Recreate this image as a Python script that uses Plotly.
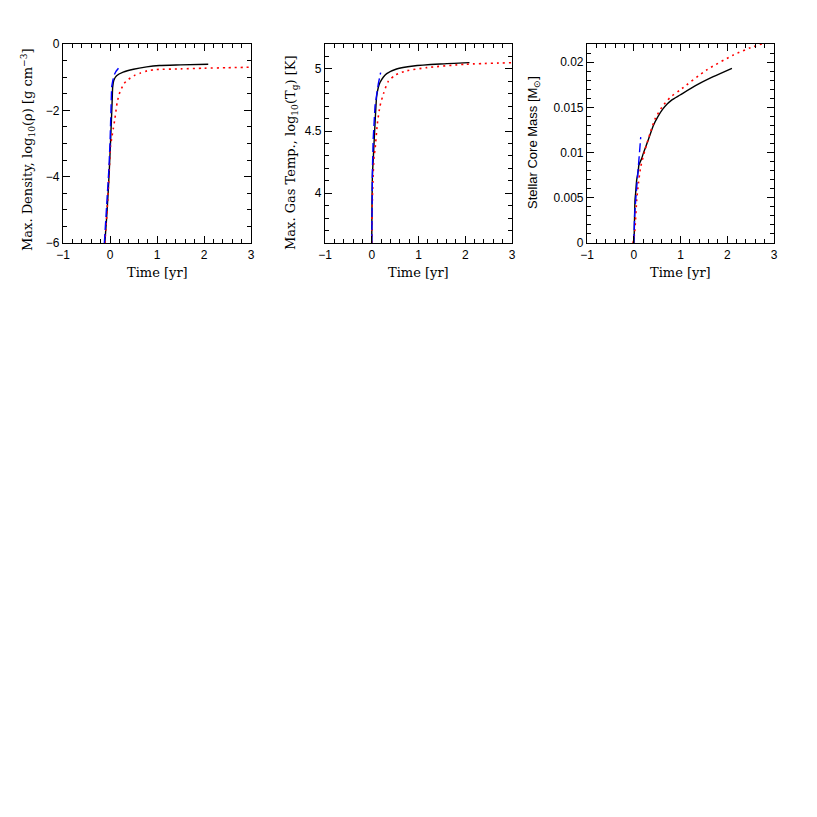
import plotly.graph_objects as go

# ---- Panel 1: max density log10(rho) ----
rho_black_t = [-0.11, -0.07, -0.04, -0.015, 0.01, 0.03, 0.045, 0.057, 0.08, 0.14, 0.28, 0.50, 0.78, 1.05, 1.5, 2.09]
rho_black_y = [-6.0, -5.2, -4.5, -3.8, -3.0, -2.3, -1.75, -1.30, -1.10, -0.96, -0.85, -0.76, -0.69, -0.65, -0.63, -0.61]
rho_red_t = [-0.11, -0.07, -0.04, -0.015, 0.01, 0.036, 0.07, 0.106, 0.155, 0.213, 0.30, 0.39, 0.51, 0.64, 0.79, 0.99, 1.5, 2.0, 2.5, 3.0]
rho_red_y = [-6.0, -5.2, -4.5, -3.8, -3.1, -2.84, -2.55, -2.24, -1.74, -1.44, -1.19, -1.07, -0.955, -0.88, -0.81, -0.77, -0.75, -0.73, -0.715, -0.70]
rho_blue_t = [-0.12, -0.08, -0.05, -0.025, 0.0, 0.02, 0.035, 0.06, 0.09, 0.13, 0.18]
rho_blue_y = [-6.0, -5.2, -4.5, -3.8, -3.0, -2.0, -1.29, -1.1, -0.93, -0.82, -0.73]

# ---- Panel 2: max gas temperature log10(Tg) ----
tg_black_t = [0.0, 0.005, 0.015, 0.034, 0.07, 0.105, 0.14, 0.176, 0.25, 0.32, 0.53, 0.89, 1.46, 2.09]
tg_black_y = [3.6, 3.9, 4.15, 4.29, 4.56, 4.78, 4.85, 4.89, 4.935, 4.962, 4.999, 5.023, 5.039, 5.05]
tg_red_t = [0.0, 0.01, 0.03, 0.05, 0.07, 0.12, 0.176, 0.25, 0.35, 0.50, 0.75, 1.18, 2.0, 3.0]
tg_red_y = [3.6, 3.9, 4.15, 4.30, 4.35, 4.56, 4.70, 4.80, 4.897, 4.95, 4.985, 5.01, 5.037, 5.05]
tg_blue_t = [0.0, 0.005, 0.015, 0.03, 0.07, 0.14, 0.19]
tg_blue_y = [3.6, 3.9, 4.2, 4.43, 4.70, 4.88, 4.97]

# ---- Panel 3: stellar core mass ----
m_black_t = [0.005, 0.01, 0.027, 0.04, 0.063, 0.097, 0.11, 0.17, 0.205, 0.31, 0.42, 0.52, 0.62, 0.72, 0.81, 0.99, 1.35, 1.70, 2.10]
m_black_y = [0.0, 0.00107, 0.00475, 0.0055, 0.00697, 0.0080, 0.00862, 0.00935, 0.00991, 0.01139, 0.01300, 0.0140, 0.0148, 0.0154, 0.0158, 0.01636, 0.01747, 0.01838, 0.01931]
m_red_t = [-0.02, 0.0, 0.027, 0.063, 0.10, 0.149, 0.24, 0.35, 0.455, 0.60, 0.78, 0.99, 1.56, 2.13, 2.5, 2.85]
m_red_y = [0.0, 0.0003, 0.00162, 0.00475, 0.0066, 0.00843, 0.01028, 0.01213, 0.01370, 0.01500, 0.0161, 0.01691, 0.01913, 0.02078, 0.0216, 0.0222]
m_blue_t = [0.0, 0.005, 0.02, 0.047, 0.075, 0.097, 0.149]
m_blue_y = [0.0, 0.0015, 0.0032, 0.00512, 0.0068, 0.00843, 0.0117]

x_ticks = [-1, 0, 1, 2, 3]
x_ticktext = ["\u22121", "0", "1", "2", "3"]
y1_ticks = [-6, -4, -2, 0]
y1_ticktext = ["\u22126", "\u22124", "\u22122", "0"]
y2_ticks = [4, 4.5, 5]
y2_ticktext = ["4", "4.5", "5"]
y3_ticks = [0, 0.005, 0.01, 0.015, 0.02]
y3_ticktext = ["0", "0.005", "0.01", "0.015", "0.02"]

OFF = 8  # page body margin
W = 817 - OFF
H = 817 - OFF
panels_px = [(63, 251), (325, 512), (587, 774)]
top_px, bot_px = 44, 243

def fx(px):
    return (px - OFF) / W

def fy(py):
    return 1 - (py - OFF) / H

fig = go.Figure()

def add_traces(idx, bt, by, rt, ry, blt, bly):
    xa = "x" if idx == 1 else f"x{idx}"
    ya = "y" if idx == 1 else f"y{idx}"
    fig.add_trace(go.Scatter(x=bt, y=by, mode="lines", xaxis=xa, yaxis=ya,
                             line=dict(color="black", width=1.4, shape="spline", smoothing=0.6), showlegend=False))
    fig.add_trace(go.Scatter(x=rt, y=ry, mode="lines", xaxis=xa, yaxis=ya,
                             line=dict(color="red", width=1.6, dash="2px,4px", shape="spline", smoothing=0.6), showlegend=False))
    fig.add_trace(go.Scatter(x=blt, y=bly, mode="lines", xaxis=xa, yaxis=ya,
                             line=dict(color="blue", width=1.4, dash="9px,4px"), showlegend=False))

add_traces(1, rho_black_t, rho_black_y, rho_red_t, rho_red_y, rho_blue_t, rho_blue_y)
add_traces(2, tg_black_t, tg_black_y, tg_red_t, tg_red_y, tg_blue_t, tg_blue_y)
add_traces(3, m_black_t, m_black_y, m_red_t, m_red_y, m_blue_t, m_blue_y)

tick_font = dict(family="Liberation Sans, Arial, sans-serif", size=12, color="black")
serif = "DejaVu Serif, serif"

def xaxis_cfg(i):
    l, r = panels_px[i]
    return dict(domain=[fx(l), fx(r)], range=[-1, 3], tickvals=x_ticks, ticktext=x_ticktext,
                ticks="inside", ticklen=7, tickwidth=1, tickcolor="black",
                minor=dict(dtick=0.2, tick0=0, ticks="inside", ticklen=3.5, tickwidth=1, tickcolor="black"),
                showline=True, linecolor="black", linewidth=1.2, mirror="allticks",
                showgrid=False, zeroline=False, tickfont=tick_font, automargin=False,
                anchor="y" if i == 0 else f"y{i+1}")

def yaxis_cfg(i, rng, tv, tt, minor_dt):
    return dict(domain=[fy(bot_px), fy(top_px)], range=rng, tickvals=tv, ticktext=tt,
                ticks="inside", ticklen=7, tickwidth=1, tickcolor="black",
                minor=dict(dtick=minor_dt, tick0=0, ticks="inside", ticklen=3.5, tickwidth=1, tickcolor="black"),
                showline=True, linecolor="black", linewidth=1.2, mirror="allticks",
                showgrid=False, zeroline=False, tickfont=tick_font, automargin=False,
                anchor="x" if i == 0 else f"x{i+1}")

fig.update_layout(
    width=W, height=H, margin=dict(l=0, r=0, t=0, b=0, autoexpand=False),
    paper_bgcolor="white", plot_bgcolor="white",
    xaxis=xaxis_cfg(0), xaxis2=xaxis_cfg(1), xaxis3=xaxis_cfg(2),
    yaxis=yaxis_cfg(0, [-6, 0], y1_ticks, y1_ticktext, 0.5),
    yaxis2=yaxis_cfg(1, [3.6, 5.2], y2_ticks, y2_ticktext, 0.1),
    yaxis3=yaxis_cfg(2, [0, 0.022], y3_ticks, y3_ticktext, 0.001),
)

annotations = []
for (l, r) in panels_px:
    annotations.append(dict(x=fx((l + r) / 2), y=fy(272), xref="paper", yref="paper",
                            text="Time [yr]", showarrow=False, xanchor="center", yanchor="middle",
                            font=dict(family=serif, size=13, color="black")))
annotations.append(dict(x=fx(28), y=fy(150), xref="paper", yref="paper", textangle=-90,
                        text="Max. Density, log<sub>10</sub>(\u03c1) [g cm<sup>\u22123</sup>]",
                        showarrow=False, xanchor="center", yanchor="middle",
                        font=dict(family=serif, size=13, color="black")))
annotations.append(dict(x=fx(292), y=fy(153), xref="paper", yref="paper", textangle=-90,
                        text="Max. Gas Temp., log<sub>10</sub>(T<sub>g</sub>) [K]",
                        showarrow=False, xanchor="center", yanchor="middle",
                        font=dict(family=serif, size=13, color="black")))
annotations.append(dict(x=fx(533), y=fy(143), xref="paper", yref="paper", textangle=-90,
                        text="Stellar Core Mass [M<sub>\u2299</sub>]",
                        showarrow=False, xanchor="center", yanchor="middle",
                        font=dict(family="Liberation Sans, Arial, sans-serif", size=13, color="black")))
fig.update_layout(annotations=annotations)

fig.write_html("out.html")
